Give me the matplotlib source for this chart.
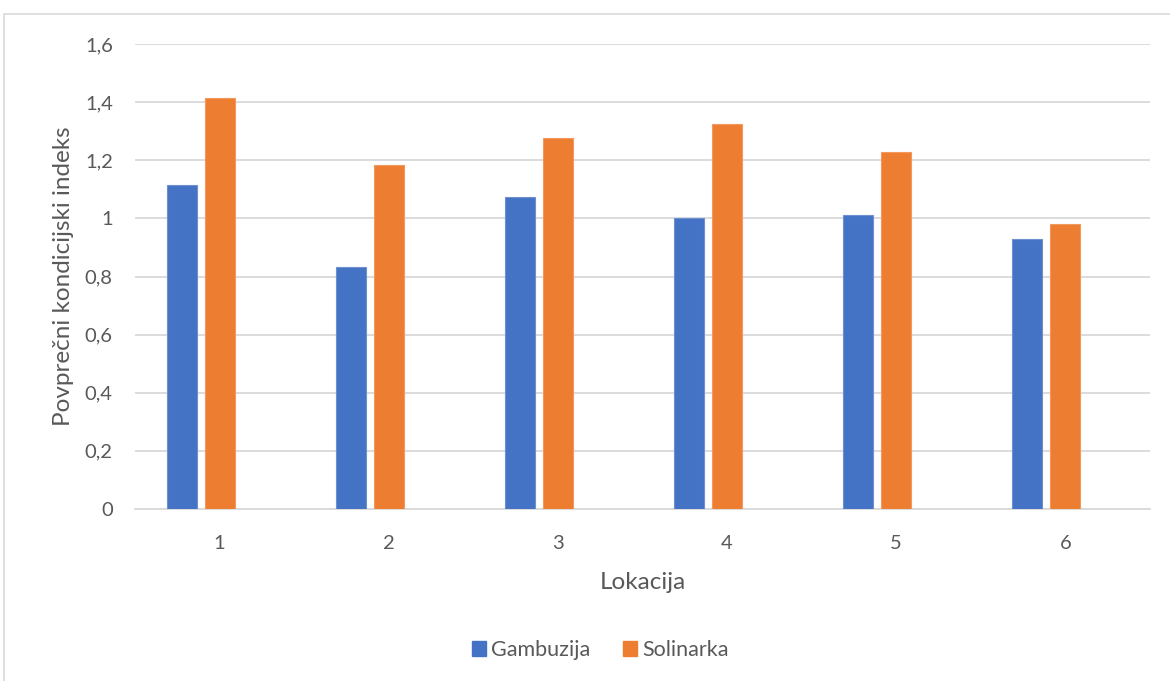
import matplotlib
matplotlib.use("Agg")
import matplotlib.pyplot as plt
from matplotlib.patches import Rectangle, Patch
import numpy as np

categories = ["1", "2", "3", "4", "5", "6"]
gambuzija = [1.115, 0.833, 1.074, 1.001, 1.012, 0.928]
solinarka = [1.415, 1.184, 1.277, 1.325, 1.228, 0.980]
yticks = [0, 0.2, 0.4, 0.6, 0.8, 1.0, 1.2, 1.4, 1.6]
ytick_labels = ["0", "0,2", "0,4", "0,6", "0,8", "1", "1,2", "1,4", "1,6"]

plt.rcParams['font.family'] = ['Lato', 'DejaVu Sans']
text_color = "#595959"

fig = plt.figure(figsize=(11.7, 6.81), dpi=100)
ax = fig.add_axes([135/1170, 1-509/681, (1150-135)/1170, (509-44)/681])

x = np.arange(1, len(categories)+1)
w = 30/169
off = 38/169
ax.bar(x - off, gambuzija, width=w, color="#4472C4", edgecolor="#6E8FD0", linewidth=0.8, zorder=3)
ax.bar(x, solinarka, width=w, color="#ED7D31", edgecolor="#F29A5E", linewidth=0.8, zorder=3)

ax.set_xlim(0.5, 6.5)
ax.set_ylim(0, 1.6)
ax.set_yticks(yticks)
ax.set_yticklabels(ytick_labels)
ax.set_xticks(x)
ax.set_xticklabels(categories)
ax.grid(axis='y', color="#D9D9D9", linewidth=1.3, zorder=0)
ax.set_axisbelow(True)
for s in ["top", "right", "left"]:
    ax.spines[s].set_visible(False)
ax.spines["bottom"].set_color("#D9D9D9")
ax.spines["bottom"].set_linewidth(1.3)
ax.tick_params(axis='both', length=0, labelsize=14.5, colors=text_color)
ax.tick_params(axis='x', pad=19)
ax.tick_params(axis='y', pad=16)

ax.set_xlabel("Lokacija", fontsize=17.5, color=text_color, labelpad=14)
ax.set_ylabel("Povprečni kondicijski indeks", fontsize=17.5, color=text_color, labelpad=8)

handles = [Patch(color="#4472C4", label="Gambuzija"), Patch(color="#ED7D31", label="Solinarka")]
fig.legend(handles=handles, loc="center", bbox_to_anchor=(600/1170, 1-650/681), ncol=2,
           frameon=False, fontsize=15.5, labelcolor=text_color, handlelength=0.65, handleheight=0.65,
           handletextpad=0.25, columnspacing=1.5)

fig.add_artist(Rectangle((4/1170, -0.05), 1.1, 1-14/681+0.05, transform=fig.transFigure,
                         fill=False, edgecolor="#D9D9D9", linewidth=1.2))

fig.savefig("out.png", dpi=100)
